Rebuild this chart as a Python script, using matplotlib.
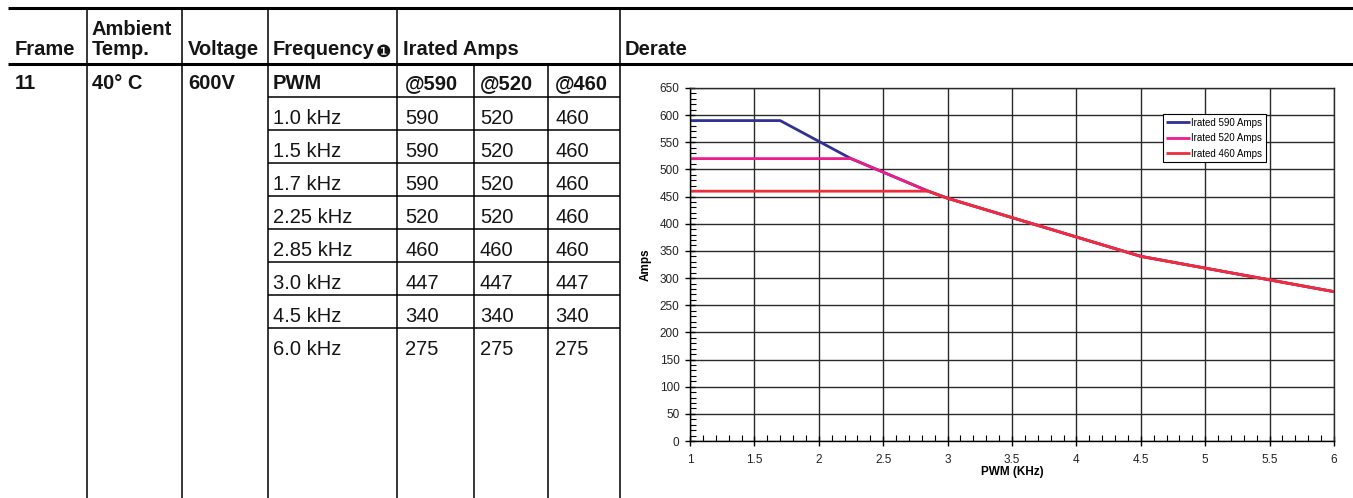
import matplotlib.pyplot as plt
from matplotlib.ticker import MultipleLocator

# Données du tableau (Frame 11, 40° C, 600V)
freq_labels = ["1.0 kHz", "1.5 kHz", "1.7 kHz", "2.25 kHz", "2.85 kHz", "3.0 kHz", "4.5 kHz", "6.0 kHz"]
freq_khz = [1.0, 1.5, 1.7, 2.25, 2.85, 3.0, 4.5, 6.0]
amps_590 = [590, 590, 590, 520, 460, 447, 340, 275]
amps_520 = [520, 520, 520, 520, 460, 447, 340, 275]
amps_460 = [460, 460, 460, 460, 460, 447, 340, 275]
rating_heads = ["@590", "@520", "@460"]
series_labels = ["Irated 590 Amps", "Irated 520 Amps", "Irated 460 Amps"]
series_colors = ["#2E3192", "#EC1C8C", "#EE2D3B"]

W, H = 1353, 498
fig = plt.figure(figsize=(W / 100, H / 100), dpi=100)
fig.patch.set_facecolor("white")

sans = ["Liberation Sans", "DejaVu Sans"]
fs = 14.5

# Calque du tableau, en pixels
tab = fig.add_axes([0, 0, 1, 1])
tab.set_xlim(0, W)
tab.set_ylim(H, 0)
tab.axis("off")

thick = 2.2
thin = 1.1
tab.hlines([7.5, 64], 8, W, color="black", lw=thick)
for x in [87, 182, 268, 397, 620]:
    tab.vlines(x, 7.5, H, color="black", lw=thin)
for x in [474, 548]:
    tab.vlines(x, 64, H, color="black", lw=thin)
row_top = [64 + 33 * k for k in range(9)]
tab.hlines(row_top[1:], 268, 620, color="black", lw=thin)

def txt(x, y, s, bold=False, size=fs):
    tab.text(x, y, s, fontsize=size, family=sans, fontweight="bold" if bold else "normal",
             va="baseline", ha="left", color="#151515")

# En-têtes
txt(15, 55, "Frame", True)
txt(92, 35, "Ambient", True)
txt(92, 55, "Temp.", True)
txt(188, 55, "Voltage", True)
txt(273, 55, "Frequency", True)
tab.text(376, 57, "\u2776", fontsize=12.5, family="DejaVu Sans", va="baseline", ha="left",
         color="#151515")
txt(403, 55, "Irated Amps", True)
txt(625, 55, "Derate", True)

# Première ligne
txt(15, 89, "11", True)
txt(92, 89, "40° C", True)
txt(188, 89, "600V", True)
txt(273, 89, "PWM", True)
for x, s in zip([405, 480, 555], rating_heads):
    txt(x, 89, s, True)

for i, lab in enumerate(freq_labels):
    yb = row_top[i + 1] + 27
    txt(273, yb, lab)
    for x, v in zip([405, 480, 555], [amps_590[i], amps_520[i], amps_460[i]]):
        txt(x, yb, str(v))

# Graphique de déclassement
ax = fig.add_axes([690 / W, 57 / H, 644 / W, 353 / H])
for ys, lab, c in zip([amps_590, amps_520, amps_460], series_labels, series_colors):
    ax.plot(freq_khz, ys, color=c, lw=2, label=lab, solid_capstyle="butt")

ax.set_xlim(1, 6)
ax.set_ylim(0, 650)
ax.xaxis.set_major_locator(MultipleLocator(0.5))
ax.xaxis.set_minor_locator(MultipleLocator(0.1))
ax.yaxis.set_major_locator(MultipleLocator(50))
ax.yaxis.set_minor_locator(MultipleLocator(10))
ax.xaxis.set_major_formatter(plt.FuncFormatter(lambda v, p: f"{v:g}"))
ax.grid(True, which="major", color="#2a2a2a", lw=1)
ax.tick_params(which="major", direction="inout", length=7, width=1, labelsize=8.5,
               colors="black", labelcolor="#222222")
ax.tick_params(which="minor", direction="in", length=4, width=0.8)
ax.tick_params(axis="x", which="major", pad=6)
ax.tick_params(axis="y", which="major", pad=4)
for s in ax.spines.values():
    s.set_color("#2a2a2a")
    s.set_linewidth(1)
ax.spines["left"].set_color("black")
ax.spines["bottom"].set_color("black")
for lab in ax.get_xticklabels() + ax.get_yticklabels():
    lab.set_family(sans)

ax.set_xlabel("PWM (KHz)", fontsize=8.5, fontweight="bold", family=sans, labelpad=0)
ax.set_ylabel("Amps", fontsize=8.5, fontweight="bold", family=sans, labelpad=6)

leg = ax.legend(loc="upper left", bbox_to_anchor=(0.734, 0.925),
                prop={"family": sans, "size": 7},
                frameon=True, fancybox=False, edgecolor="black", framealpha=1,
                handlelength=2.5, handletextpad=0.1, borderpad=0.35, labelspacing=0.55,
                borderaxespad=0)
leg.get_frame().set_linewidth(0.8)

fig.savefig("out.png", dpi=100)
